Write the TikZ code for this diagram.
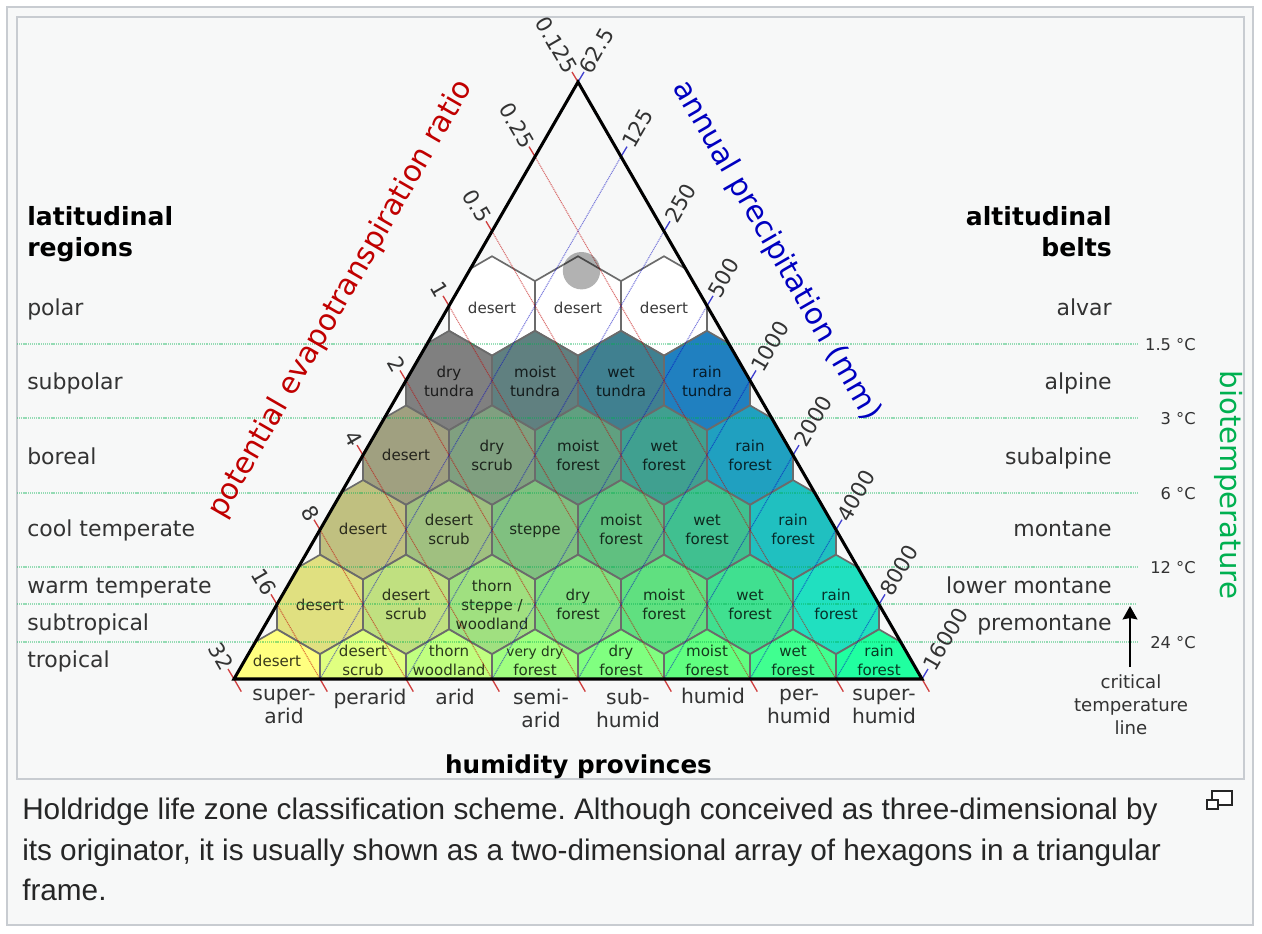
\documentclass[tikz,border=0pt]{standalone}
\usepackage{fontspec}
\setmainfont{DejaVu Sans}
\newfontfamily\capfont{Liberation Sans}
\usetikzlibrary{arrows.meta,calc}

\definecolor{framegray}{HTML}{C8CCD1}
\definecolor{panelbg}{HTML}{F7F8F8}
\definecolor{ratiored}{HTML}{C00000}
\definecolor{precipblue}{HTML}{0000C0}
\definecolor{tempgreen}{HTML}{00B050}
\definecolor{labelgray}{HTML}{333333}

\tikzset{
  panel/.style={draw=framegray,line width=1.6pt,fill=panelbg},
  hexline/.style={draw=black!58,line width=1.25pt},
  hexlabel/.style={text=black,text opacity=.78,align=center,inner sep=0pt,font=\fontsize{11.3}{14.2}\selectfont},
  sidelabel/.style={text=labelgray,inner sep=0pt,font=\fontsize{16.5}{20}\selectfont},
  toplabel/.style={text=black,inner sep=0pt,font=\fontsize{18.8}{23.2}\selectfont\bfseries},
  provlabel/.style={text=labelgray,align=center,inner sep=0pt,font=\fontsize{15.2}{17.2}\selectfont},
  templabel/.style={text=labelgray,inner sep=0pt,anchor=base east,font=\fontsize{12.2}{14}\selectfont},
  ticklabel/.style={text=labelgray,inner sep=0pt,font=\fontsize{16}{18}\selectfont},
  axistitle/.style={inner sep=0pt,font=\fontsize{22.2}{26}\selectfont},
  ratioline/.style={ratiored,opacity=.55,line width=.8pt,dash pattern=on .8pt off .6pt},
  ratiotick/.style={ratiored!75,line width=1pt},
  preline/.style={precipblue,opacity=.5,line width=.8pt,dash pattern=on .8pt off .6pt},
  pretick/.style={precipblue!75,line width=1pt},
  templine/.style={tempgreen,opacity=.4,line width=.9pt,dash pattern=on .8pt off .6pt},
  caption/.style={text=black!85,anchor=base west,inner sep=0pt,font=\capfont\fontsize{22.3}{26}\selectfont\frenchspacing},
}

% name, x, y of the hexagon, y of the label, colour, label
\newcommand{\hexcell}[6]{
  \definecolor{hexfill}{HTML}{#5}
  \draw[hexline,fill=hexfill,shift={(#2,#3)}] (-43,-24.8) -- (0,-49.65) -- (43,-24.8) -- (43,24.8) -- (0,49.65) -- (-43,24.8) -- cycle;
  \node[hexlabel] (#1) at (#2,#4) {\strut #6\strut};
}

\begin{document}
\begin{tikzpicture}[x=.75pt,y=-.75pt]
\useasboundingbox (0,0) rectangle (1262,934);
\fill[white] (0,0) rectangle (1262,934);

\draw[panel] (7,7) rectangle (1253,925);
\draw[panel] (17,17) rectangle (1244,779);

\coordinate (apex) at (578,82);
\coordinate (baseleft) at (234,679);
\coordinate (baseright) at (922,679);

\begin{scope}
\clip (apex) -- (baseleft) -- (baseright) -- cycle;

\foreach \cx/\cc/\lab [count=\n] in {492/FFFFFF/desert,578/FFFFFF/desert,664/FFFFFF/desert}
{\hexcell{rowa\n}{\cx}{305.9}{310}{\cc}{\lab}}

\foreach \cx/\cc/\lab [count=\n] in {449/808080/{dry\\tundra},535/608080/{moist\\tundra},621/408090/{wet\\tundra},707/2080C0/{rain\\tundra}}
{\hexcell{rowb\n}{\cx}{380.5}{383}{\cc}{\lab}}

\foreach \cx/\cc/\lab [count=\n] in {406/A0A080/desert,492/80A080/{dry\\scrub},578/60A080/{moist\\forest},664/40A090/{wet\\forest},750/20A0C0/{rain\\forest}}
{\hexcell{rowc\n}{\cx}{455.1}{457}{\cc}{\lab}}

\foreach \cx/\cc/\lab [count=\n] in {363/C0C080/desert,449/A0C080/{desert\\scrub},535/80C080/steppe,621/60C080/{moist\\forest},707/40C090/{wet\\forest},793/20C0C0/{rain\\forest}}
{\hexcell{rowd\n}{\cx}{529.75}{531}{\cc}{\lab}}

\foreach \cx/\cc/\lab [count=\n] in {320/E0E080/desert,406/C0E080/{desert\\scrub},492/A0E080/{thorn\\steppe /\\woodland},578/80E080/{dry\\forest},664/60E080/{moist\\forest},750/40E090/{wet\\forest},836/20E0C0/{rain\\forest}}
{\hexcell{rowe\n}{\cx}{604.4}{606.5}{\cc}{\lab}}

\foreach \cx/\cc/\lab [count=\n] in {277/FFFF80/desert,363/E0FF80/{desert\\scrub},449/C0FF80/{thorn\\woodland},535/A0FF80/{{\fontsize{10.3}{14.2}\selectfont very dry}\\forest},621/80FF80/{dry\\forest},707/60FF80/{moist\\forest},793/40FF90/{wet\\forest},879/20FFA0/{rain\\forest}}
{\hexcell{rowf\n}{\cx}{679}{662.5}{\cc}{\lab}}
\end{scope}

% temperature lines
\foreach \gy in {344,418,493,567,642}
\draw[templine] (17,\gy) -- (1138,\gy);
\draw[templine] (17,604) -- (1136,604);

\node[templabel] (t1) at (1196,350) {1.5 °C};
\node[templabel] (t2) at (1196,424.5) {3 °C};
\node[templabel] (t3) at (1196,499) {6 °C};
\node[templabel] (t4) at (1196,573.5) {12 °C};
\node[templabel] (t5) at (1196,648) {24 °C};

% ratio and precipitation scales
\foreach \k/\lab in {0/0.125,1/0.25,2/0.5,3/1,4/2,5/4,6/8,7/16,8/32}{
\coordinate (ra\k) at ($(apex)!\k/8!(baseleft)$);
\coordinate (rb\k) at ($(baseright)!\k/8!(baseleft)$);
\draw[ratioline] (ra\k) -- (rb\k);
\draw[ratiotick] (rb\k) -- ++(7.3,12.6);
\draw[ratiotick] (ra\k) -- ++(-6,-10) node[ticklabel,rotate=-60,anchor=east] (rl\k) {\lab};
}
\foreach \k/\lab in {0/62.5,1/125,2/250,3/500,4/1000,5/2000,6/4000,7/8000,8/16000}{
\coordinate (pa\k) at ($(apex)!\k/8!(baseright)$);
\coordinate (pb\k) at ($(baseleft)!\k/8!(baseright)$);
\draw[preline] (pa\k) -- (pb\k);
\draw[pretick] (pa\k) -- ++(6,-10) node[ticklabel,rotate=60,anchor=west] (pl\k) {\lab};
}

\draw[black,line width=2.3pt,line join=miter] (apex) -- (baseleft) -- (baseright) -- cycle;

\fill[black,opacity=.3] (581.5,270.7) circle(18.7);

\node[axistitle,text=ratiored,rotate=60] (ratiotitle) at (341,299) {potential evapotranspiration ratio};
\node[axistitle,text=precipblue,rotate=-60] (pretitle) at (776.5,251) {annual precipitation (mm)};
\node[axistitle,text=tempgreen,rotate=-90,font=\fontsize{21.9}{26}\selectfont] (temptitle) at (1229,485) {biotemperature};

\node[toplabel,align=left,anchor=west] (lattitle) at (27,234) {latitudinal\\regions};
\node[toplabel,align=right,anchor=east] (alttitle) at (1112,231.5) {altitudinal\\belts};

\foreach \gy/\lab [count=\n] in {315/polar,389/subpolar,464/boreal,536/cool temperate,593/warm temperate,630/subtropical,667/tropical}
\node[sidelabel,anchor=base west] (lat\n) at (27,\gy) {\lab};

\foreach \gy/\lab [count=\n] in {315/alvar,389/alpine,464/subalpine,536/montane,593/lower montane,630/premontane}
\node[sidelabel,anchor=base east] (alt\n) at (1112,\gy) {\lab};

\foreach \cx/\gy/\lab [count=\n] in {284/707/{super-\\arid},370/700/perarid,455/700/arid,541/711.5/{semi-\\arid},628/711.5/{sub-\\humid},713/699/humid,799/707/{per-\\humid},884/707/{super-\\humid}}
\node[provlabel] (prov\n) at (\cx,\gy) {\strut\lab\strut};

\node[toplabel,font=\fontsize{18.5}{22}\selectfont\bfseries] (provtitle) at (578.5,767) {humidity provinces};

\node[provlabel,font=\fontsize{13.6}{17.2}\selectfont] (critlabel) at (1131,705) {critical\\temperature\\line};
\coordinate (crittip) at (1130,606);
\draw[black,line width=1.75pt,-{Stealth[length=10pt,width=11pt,inset=1pt]}] (1130,667) -- (crittip);

\node[caption] (cap1) at (22,819) {Holdridge life zone classification scheme. Although conceived as three-dimensional by};
\node[caption] (cap2) at (22,860) {its originator, it is usually shown as a two-dimensional array of hexagons in a triangular};
\node[caption] (cap3) at (22,900) {frame.};

\draw[black!85,line width=1.1pt,fill=white] (1212,791) rectangle (1232,805);
\draw[black!85,line width=1.1pt,fill=white] (1207,800) rectangle (1218,809);
\end{tikzpicture}
\end{document}
